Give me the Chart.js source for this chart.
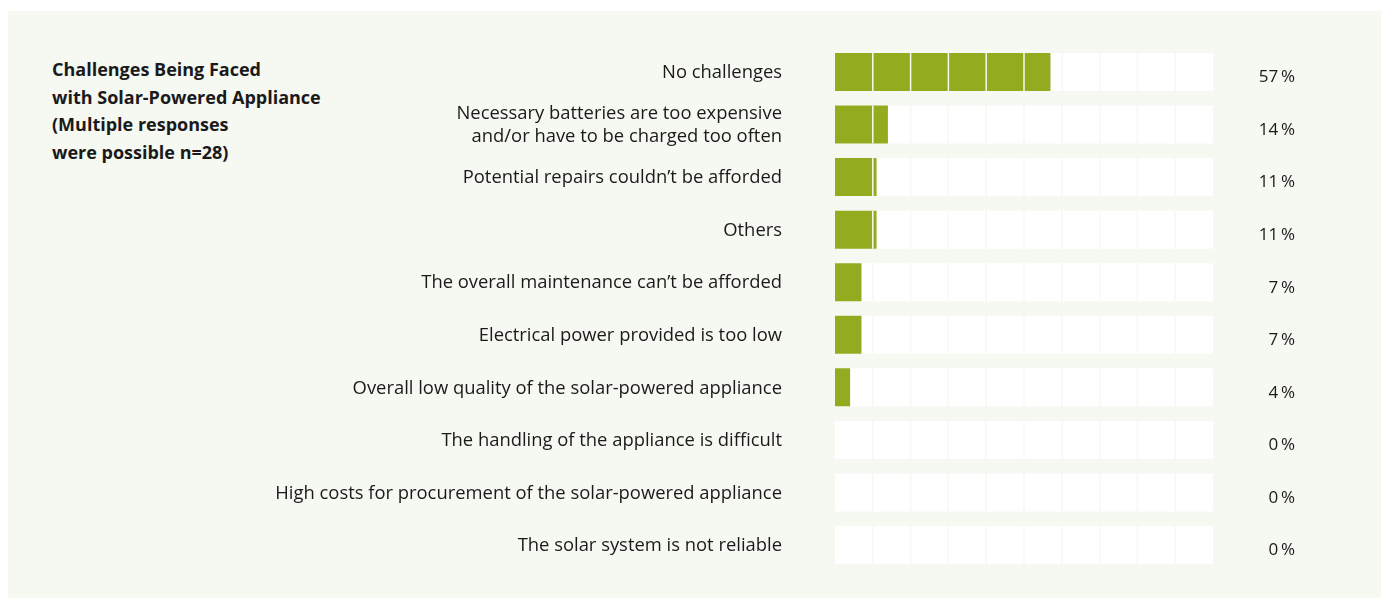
<!DOCTYPE html>
<html>
<head>
<meta charset="utf-8">
<script src="https://cdn.jsdelivr.net/npm/chart.js@4"></script>
<style>
    html, body { margin: 0; padding: 0; background: #fff; }
    body { width: 1381px; height: 601px; position: relative; overflow: hidden; font-family: "Open Sans", sans-serif; }
    .panel { position: absolute; left: 8px; top: 11px; width: 1373px; height: 587px; background: #f6f8f2; }
    .title { position: absolute; left: 52px; top: 56px; font-size: 18px; font-weight: 700; line-height: 27.7px; color: #1a1a1a; }
    #chart { position: absolute; left: 0; top: 0; }
</style>
</head>
<body>
<div class="panel"></div>
<div class="title">Challenges Being Faced<br>with Solar-Powered Appliance<br>(Multiple responses<br>were possible n=28)</div>
<canvas id="chart" width="1381" height="601"></canvas>
<script>
// Chart data
const categories = [
    'No challenges',
    ['Necessary batteries are too expensive', 'and/or have to be charged too often'],
    'Potential repairs couldn\u2019t be afforded',
    'Others',
    'The overall maintenance can\u2019t be afforded',
    'Electrical power provided is too low',
    'Overall low quality of the solar-powered appliance',
    'The handling of the appliance is difficult',
    'High costs for procurement of the solar-powered appliance',
    'The solar system is not reliable'
];
const shares = [57, 14, 11, 11, 7, 7, 4, 0, 0, 0];
const trackValues = [100, 100, 100, 100, 100, 100, 100, 100, 100, 100];

const barColor = '#92ab1f';
const panelColor = '#f6f8f2';
const textColor = '#1a1a1a';

// Segment lines over every bar row, one per 10 %
const segmentLines = {
    id: 'segmentLines',
    afterDatasetsDraw(chart) {
        const ctx = chart.ctx;
        const xScale = chart.scales.x;
        const track = chart.getDatasetMeta(1);
        ctx.save();
        ctx.strokeStyle = panelColor;
        ctx.lineWidth = 1.5;
        track.data.forEach(bar => {
            const top = bar.y - bar.height / 2;
            const bottom = bar.y + bar.height / 2;
            for (let v = 10; v < 100; v += 10) {
                const x = xScale.getPixelForValue(v);
                ctx.beginPath();
                ctx.moveTo(x, top);
                ctx.lineTo(x, bottom);
                ctx.stroke();
            }
        });
        ctx.restore();
    }
};

// Percentage labels right of the tracks
const valueLabels = {
    id: 'valueLabels',
    afterDraw(chart) {
        const ctx = chart.ctx;
        const yScale = chart.scales.y;
        const x = chart.chartArea.right + 82;
        ctx.save();
        ctx.font = '17px "Open Sans", sans-serif';
        ctx.fillStyle = textColor;
        ctx.textAlign = 'right';
        ctx.textBaseline = 'middle';
        shares.forEach((v, i) => {
            ctx.fillText(v + '\u2009%', x, yScale.getPixelForValue(i) + 5.5);
        });
        ctx.restore();
    }
};

new Chart(document.getElementById('chart'), {
    type: 'bar',
    data: {
        labels: categories,
        datasets: [{
            data: shares,
            backgroundColor: barColor,
            barThickness: 38,
            inflateAmount: 0,
            grouped: false,
            order: 0
        }, {
            data: trackValues,
            backgroundColor: '#ffffff',
            barThickness: 38,
            inflateAmount: 0,
            grouped: false,
            order: 1
        }]
    },
    options: {
        indexAxis: 'y',
        responsive: false,
        animation: false,
        devicePixelRatio: 1,
        layout: {
            padding: { left: 0, right: 168, top: 45.7, bottom: 29.7 }
        },
        scales: {
            x: {
                min: 0,
                max: 100,
                display: false
            },
            y: {
                afterFit: scale => {
                    scale.width = 835;
                    scale.paddingTop = 0;
                    scale.paddingBottom = 0;
                },
                border: { display: false },
                grid: { display: false, drawTicks: false },
                ticks: {
                    padding: 53,
                    labelOffset: 1,
                    color: textColor,
                    font: { family: '"Open Sans", sans-serif', size: 18.4, lineHeight: 1.26 }
                }
            }
        },
        plugins: {
            legend: { display: false },
            tooltip: { enabled: false }
        }
    },
    plugins: [segmentLines, valueLabels]
});
</script>
</body>
</html>
